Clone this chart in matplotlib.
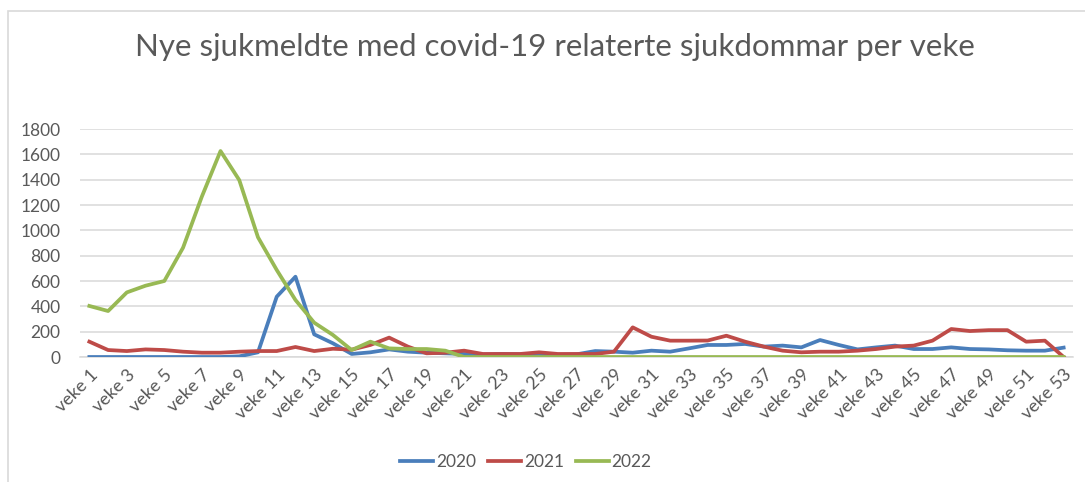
import numpy as np
import matplotlib.pyplot as plt
from matplotlib.patches import Rectangle

plt.rcParams['font.family'] = ['Lato', 'DejaVu Sans']

# weeks and values per year
weeks = list(range(1, 54))
tick_weeks = list(range(1, 54, 2))
tick_labels = ["veke " + str(w) for w in tick_weeks]

cases_2020 = [0, 0, 0, 0, 0, 0, 0, 0, 5, 37,
              476, 634, 179, 108, 24, 37, 60, 42, 34, 29,
              24, 18, 24, 21, 24, 16, 21, 47, 42, 34,
              50, 42, 68, 95, 95, 103, 82, 90, 76, 134,
              95, 60, 76, 90, 63, 63, 76, 63, 60, 53,
              50, 50, 74]
cases_2021 = [121, 55, 47, 60, 55, 42, 34, 34, 42, 47,
              47, 79, 47, 65, 58, 95, 153, 82, 29, 34,
              50, 24, 24, 24, 37, 24, 24, 24, 42, 234,
              160, 129, 129, 130, 168, 121, 82, 50, 37, 42,
              42, 50, 63, 82, 90, 129, 221, 205, 212, 212,
              121, 129, 0]
cases_2022 = [403, 363, 510, 563, 600, 863, 1265, 1626, 1397, 945,
              687, 450, 271, 174, 55, 121, 68, 63, 63, 50] + [0] * 33

series = [("2020", cases_2020, "#4a7ebb"),
          ("2021", cases_2021, "#be4b48"),
          ("2022", cases_2022, "#98b954")]

text_col = "#595959"
grid_col = "#d9d9d9"

W, H = 1085, 482
fig = plt.figure(figsize=(W / 100, H / 100), dpi=100)

# chart frame (only top and left edges visible in the crop)
fig.patches.append(Rectangle((8 / W, -0.1), 1.2, 1 - 11 / H + 0.1,
                             transform=fig.transFigure, fill=False,
                             edgecolor="#d9d9d9", linewidth=1.2))

ax = fig.add_axes([80 / W, 1 - 357 / H, (1073 - 80) / W, (357 - 129) / H])

for name, vals, col in series:
    ax.plot(weeks, vals, color=col, linewidth=2.7, label=name,
            solid_joinstyle="round", zorder=3)

ax.set_xlim(0.5, 53.5)
ax.set_ylim(0, 1800)
ax.set_yticks(np.arange(0, 1801, 200))
ax.set_xticks(tick_weeks)
ax.set_xticklabels(tick_labels, rotation=45, ha="right",
                   rotation_mode="anchor")
ax.tick_params(axis="both", length=0, labelcolor=text_col)
ax.tick_params(axis="x", pad=7, labelsize=13)
ax.tick_params(axis="y", pad=14, labelsize=12.5)

ax.grid(axis="y", color=grid_col, linewidth=1.1)
for s in ["top", "right", "left"]:
    ax.spines[s].set_visible(False)
ax.spines["bottom"].set_color(grid_col)
ax.spines["bottom"].set_linewidth(1.1)

fig.text(555 / W, 1 - 47 / H,
         "Nye sjukmeldte med covid-19 relaterte sjukdommar per veke",
         ha="center", va="center", fontsize=22.5, color=text_col)

fig.legend(loc="center", bbox_to_anchor=(526 / W, 1 - 462 / H), ncol=3,
           frameon=False, fontsize=12.5, labelcolor=text_col,
           handlelength=1.9, columnspacing=0.7, handletextpad=0.15)

fig.savefig("out.png", dpi=100)
